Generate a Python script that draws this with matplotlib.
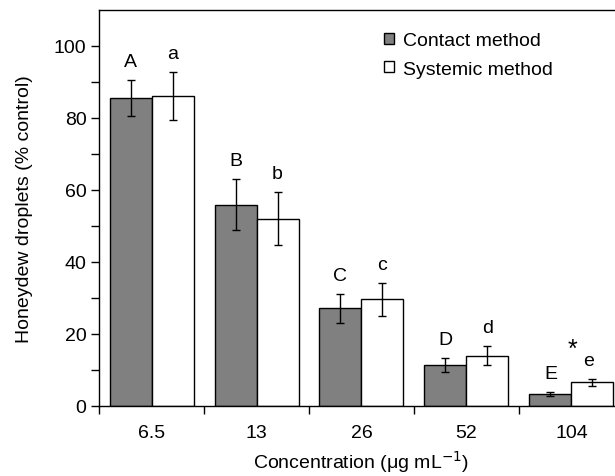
import matplotlib
matplotlib.use('Agg')
import matplotlib.pyplot as plt
from matplotlib.patches import Patch
import numpy as np

plt.rcParams['font.family'] = ['Liberation Sans', 'DejaVu Sans']
plt.rcParams['font.size'] = 14

conc = ['6.5', '13', '26', '52', '104']
contact = [85.5, 55.8, 27.0, 11.3, 3.2]
contact_err = [5.0, 7.1, 4.0, 2.0, 0.5]
systemic = [86.0, 51.9, 29.5, 13.9, 6.5]
systemic_err = [6.6, 7.4, 4.6, 2.7, 0.9]
contact_lab = ['A', 'B', 'C', 'D', 'E']
systemic_lab = ['a', 'b', 'c', 'd', 'e']

fig = plt.figure(figsize=(6.15, 4.77), dpi=100)
ax = fig.add_axes([0.161, 0.1474, 0.8536, 0.8302])

x = np.arange(len(conc))
w = 0.4
ax.bar(x - w/2, contact, w, color='#808080', edgecolor='black', linewidth=1.0,
       yerr=contact_err, capsize=3, error_kw=dict(elinewidth=1.0, capthick=1.0))
ax.bar(x + w/2, systemic, w, color='white', edgecolor='black', linewidth=1.0,
       yerr=systemic_err, capsize=3, error_kw=dict(elinewidth=1.0, capthick=1.0))

for i in range(len(conc)):
    ax.text(x[i] - w/2, contact[i] + contact_err[i] + 2.8, contact_lab[i],
            ha='center', va='bottom', fontsize=14)
    dx = -0.04 if i == 4 else 0
    ax.text(x[i] + w/2 + dx, systemic[i] + systemic_err[i] + 2.8, systemic_lab[i],
            ha='center', va='bottom', fontsize=14)
# significance mark
ax.text(x[4] + 0.01, systemic[4] + systemic_err[4] + 5.0, '*',
        ha='center', va='bottom', fontsize=18)

ax.set_xlim(-0.5, 4.5)
ax.set_ylim(0, 110)
ax.set_xticks(x)
ax.set_xticklabels(conc)
ax.set_xticks(np.arange(-0.5, 5.0, 1.0), minor=True)
ax.tick_params(axis='x', which='major', length=0, pad=13)
ax.tick_params(axis='x', which='minor', length=6, width=1.0, direction='out')
ax.set_yticks(np.arange(0, 101, 10))
ax.set_yticklabels([str(v) if v % 20 == 0 else '' for v in range(0, 101, 10)])
ax.tick_params(axis='y', length=6, width=1.0, direction='out', pad=3)
ax.spines['right'].set_visible(False)
for s in ['left', 'top', 'bottom']:
    ax.spines[s].set_linewidth(1.0)

ax.set_ylabel('Honeydew droplets (% control)', labelpad=15)
ax.set_xlabel('Concentration (\u03bcg mL$^{-1}$)', labelpad=5)

handles = [Patch(facecolor='#808080', edgecolor='black', linewidth=1.0),
           Patch(facecolor='white', edgecolor='black', linewidth=1.0)]
fig.legend(handles, ['Contact method', 'Systemic method'], frameon=False,
           loc='upper left', bbox_to_anchor=(384/615, 1 - 33/477),
           handlelength=0.5, handleheight=0.5, handletextpad=0.5,
           labelspacing=0.6, fontsize=14, borderaxespad=0, borderpad=0)

fig.savefig('out.png', dpi=100)
